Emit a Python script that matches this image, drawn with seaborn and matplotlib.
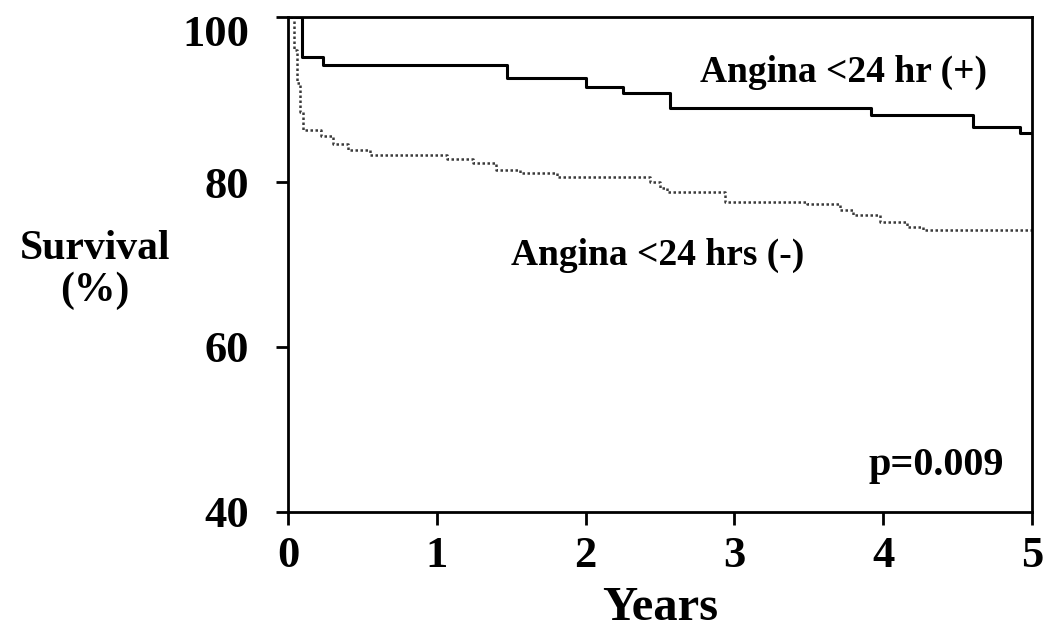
import numpy as np
import pandas as pd
import matplotlib
matplotlib.use("Agg")
import matplotlib.pyplot as plt
import matplotlib.transforms as mtransforms
import seaborn as sns

# Kaplan-Meier steps (years, survival %)
pos_years = [0.0, 0.094, 0.235, 1.47, 2.0, 2.25, 2.57, 3.92, 4.6, 4.92, 5.0]
pos_surv = [100.0, 95.2, 94.2, 92.6, 91.5, 90.8, 89.0, 88.1, 86.7, 85.9, 85.9]

neg_years = [0.0, 0.04, 0.06, 0.08, 0.1, 0.22, 0.3, 0.4, 0.55, 1.07, 1.24, 1.40,
             1.56, 1.81, 2.43, 2.5, 2.55, 2.94, 3.49, 3.71, 3.8, 3.98, 4.16,
             4.27, 5.0]
neg_surv = [100.0, 96.0, 92.0, 88.5, 86.3, 85.6, 84.6, 83.9, 83.3, 82.8, 82.3,
            81.5, 81.1, 80.6, 80.0, 79.3, 78.8, 77.6, 77.3, 76.6, 76.0, 75.2,
            74.5, 74.2, 74.2]

x_ticks = [0, 1, 2, 3, 4, 5]
y_ticks = [40, 60, 80, 100]

sns.set_theme(style="ticks")
plt.rcParams['font.family'] = ['Liberation Serif', 'DejaVu Serif']
plt.rcParams['font.weight'] = 'bold'
plt.rcParams['text.color'] = 'black'
plt.rcParams['axes.labelcolor'] = 'black'
plt.rcParams['xtick.color'] = 'black'
plt.rcParams['ytick.color'] = 'black'

fig = plt.figure(figsize=(10.45, 6.32), dpi=100)
ax = fig.add_axes([0.2756, 0.190, 0.712, 0.783])

df_pos = pd.DataFrame({"Years": pos_years, "Survival": pos_surv})
df_neg = pd.DataFrame({"Years": neg_years, "Survival": neg_surv})

sns.lineplot(data=df_pos, x="Years", y="Survival", ax=ax, color="black",
             linewidth=2.2, drawstyle="steps-post")
sns.lineplot(data=df_neg, x="Years", y="Survival", ax=ax, color="#3a3a3a",
             linewidth=1.8, linestyle=(0, (1, 1)), drawstyle="steps-post")

ax.set_xlim(0, 5)
ax.set_ylim(40, 100)
ax.set_xticks(x_ticks)
ax.set_yticks(y_ticks)
ax.tick_params(axis="both", direction="out", length=9, width=2,
               labelsize=32, colors="black")
ax.tick_params(axis="x", pad=8)
ax.tick_params(axis="y", pad=19)
for lab in ax.get_xticklabels() + ax.get_yticklabels():
    lab.set_fontweight("bold")
# the "100" label sits a little below its tick in the original
top_lab = ax.get_yticklabels()[-1]
top_lab.set_transform(top_lab.get_transform() +
                      mtransforms.ScaledTranslation(0, -10 / 72, fig.dpi_scale_trans))
for sp in ax.spines.values():
    sp.set_visible(True)
    sp.set_linewidth(2)
    sp.set_color("black")

ax.set_xlabel("")
ax.set_ylabel("")
fig.text(660 / 1045, 1 - 620 / 632, "Years", fontsize=35, fontweight="bold",
         ha="center", va="baseline")
fig.text(95 / 1045, 1 - 270 / 632, "Survival\n(%)", fontsize=30,
         fontweight="bold", ha="center", va="center", linespacing=1.15)

ax.text(4.70, 92.1, "Angina <24 hr (+)", fontsize=27, fontweight="bold",
        ha="right", va="baseline")
ax.text(3.47, 69.9, "Angina <24 hrs (-)", fontsize=27, fontweight="bold",
        ha="right", va="baseline")
ax.text(4.81, 44.5, "p=0.009", fontsize=29, fontweight="bold",
        ha="right", va="baseline")

fig.savefig("out.png", dpi=100)
